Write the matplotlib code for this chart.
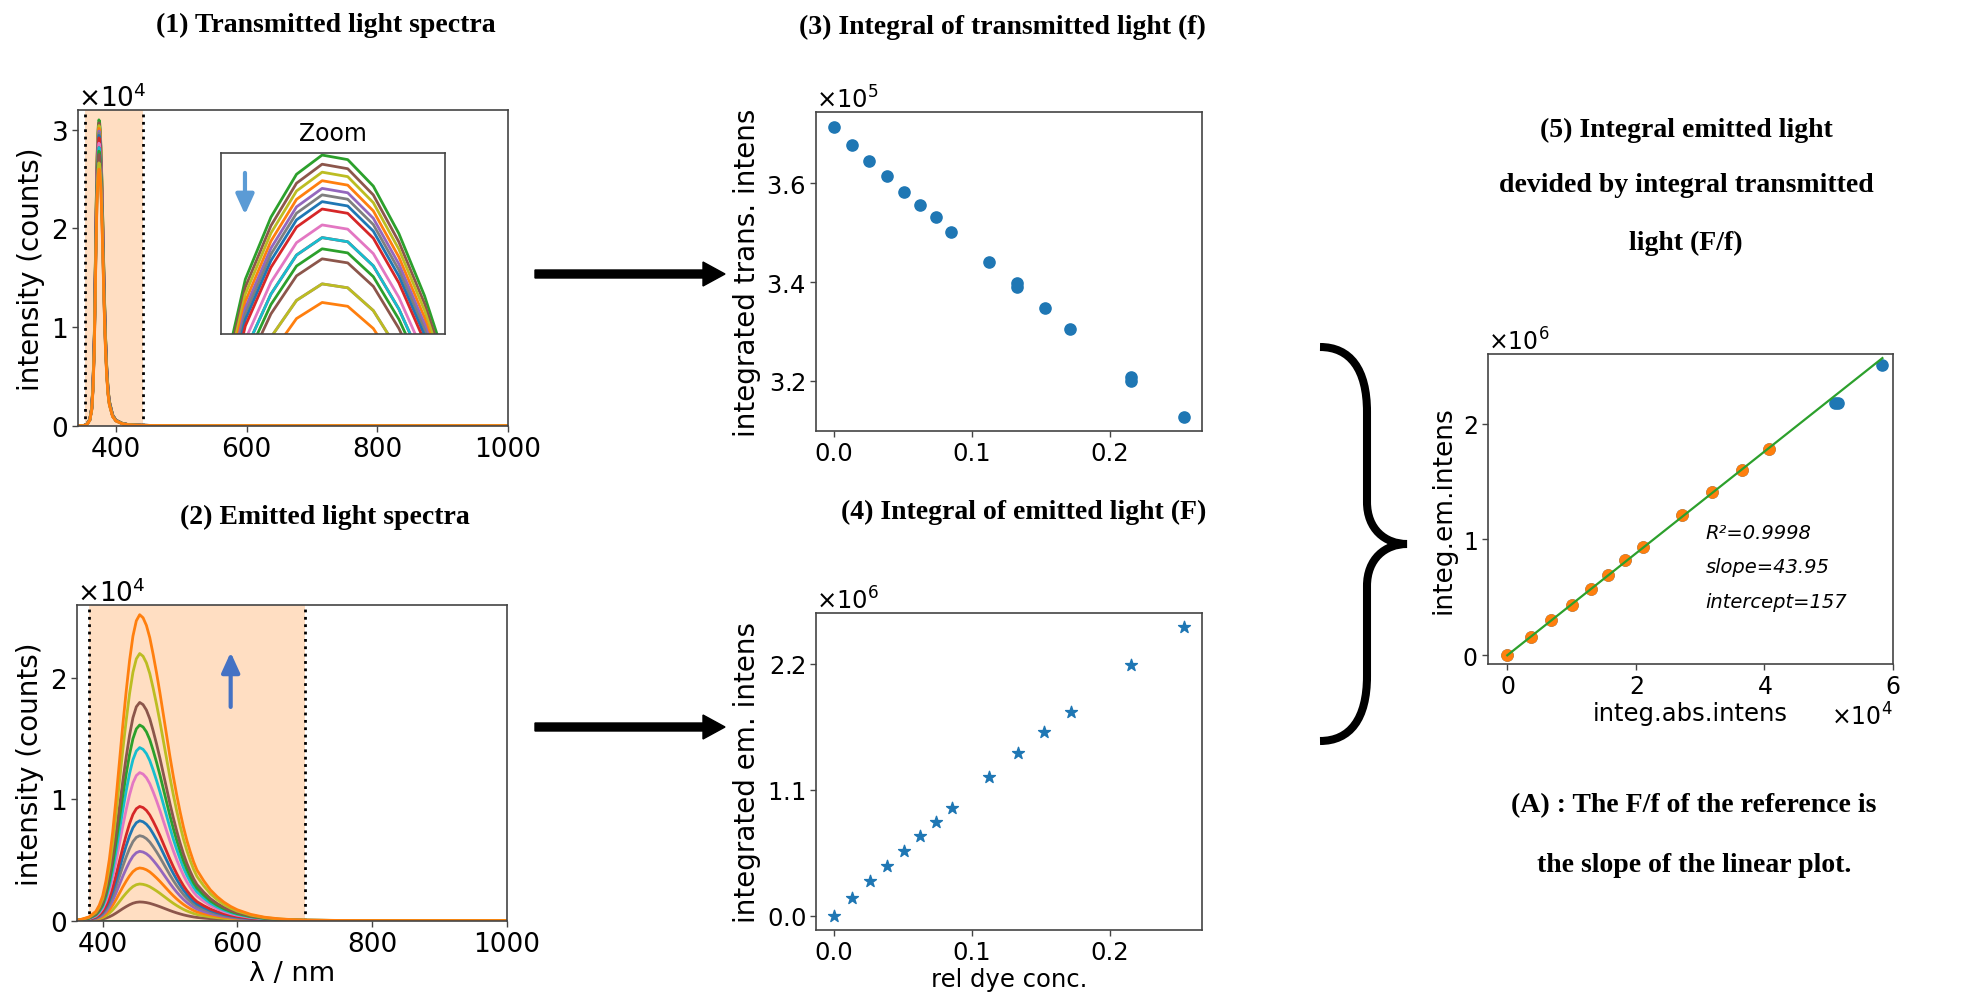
import numpy as np
import matplotlib
matplotlib.use("Agg")
import matplotlib.pyplot as plt
from matplotlib.patches import FancyArrow, PathPatch
from matplotlib.path import Path
from matplotlib.transforms import IdentityTransform

# ---------------- data ----------------
# (1) transmitted light: normalised peak shape + peak height of each spectrum
trans_wl = [340, 350, 355, 360, 363, 365, 367, 368, 369, 370, 371, 372, 373, 374, 375,
            376, 377, 378, 379, 380, 382, 384, 386, 388, 390, 395, 400, 410, 420, 440,
            460, 500, 600, 800, 1000]
trans_shape = [0.0, 0.0, 0.003, 0.02, 0.06, 0.14, 0.30, 0.45, 0.60, 0.74, 0.864, 0.932,
               0.979, 1.0, 0.995, 0.966, 0.914, 0.846, 0.76, 0.66, 0.46, 0.30, 0.19, 0.12,
               0.08, 0.035, 0.018, 0.007, 0.003, 0.001, 0.0005, 0.0, 0.0, 0.0, 0.0]
trans_peaks = [31000, 30690, 30420, 30130, 29870, 29650, 29420, 29170, 28630, 28200,
               28200, 27820, 27480, 26630, 26630, 26000]
trans_colors = ["tab:green", "tab:brown", "tab:olive", "tab:orange", "tab:purple",
                "tab:gray", "tab:blue", "tab:red", "tab:pink", "tab:red", "tab:cyan",
                "tab:green", "tab:brown", "tab:purple", "tab:olive", "tab:orange"]
trans_window = [352, 441]

# (2) emitted light: normalised emission shape + peak height of each spectrum
em_wl = [360, 370, 380, 390, 395, 400, 405, 410, 415, 420, 425, 430, 435, 440, 445, 450,
         455, 460, 465, 470, 475, 480, 485, 490, 495, 500, 505, 510, 515, 520, 525, 530,
         535, 540, 550, 560, 570, 580, 590, 600, 620, 640, 660, 680, 700, 750, 800, 1000]
em_shape = [0.0, 0.005, 0.012, 0.03, 0.05, 0.08, 0.13, 0.20, 0.29, 0.40, 0.52, 0.64, 0.75,
            0.85, 0.93, 0.98, 1.0, 0.99, 0.965, 0.925, 0.87, 0.81, 0.745, 0.675, 0.605,
            0.535, 0.47, 0.41, 0.355, 0.305, 0.262, 0.225, 0.192, 0.165, 0.13, 0.10, 0.078,
            0.06, 0.046, 0.035, 0.02, 0.011, 0.006, 0.003, 0.0015, 0.0003, 0.0, 0.0]
em_peaks = [0, 1530, 3010, 4330, 5700, 6990, 8220, 9400, 12190, 14250, 16110, 17970,
            22000, 25200]
em_colors = ["tab:green", "tab:brown", "tab:olive", "tab:orange", "tab:purple", "tab:gray",
             "tab:blue", "tab:red", "tab:pink", "tab:cyan", "tab:green", "tab:brown",
             "tab:olive", "tab:orange"]
em_window = [380, 700]

# (3) integral of transmitted light
conc_t = [0.0, 0.0133, 0.0258, 0.0386, 0.0507, 0.0625, 0.0744, 0.0853, 0.1126, 0.1331,
          0.1331, 0.1529, 0.1715, 0.2152, 0.2152, 0.2543]
trans_int = [371500, 367800, 364600, 361400, 358300, 355700, 353100, 350200, 344100,
             339900, 339100, 334800, 330500, 320700, 319900, 312800]

# (4) integral of emitted light
conc_e = [0.0, 0.0135, 0.0265, 0.0387, 0.0508, 0.0626, 0.0744, 0.0859, 0.1124, 0.1333,
          0.1526, 0.1716, 0.2152, 0.2539]
em_int = [0, 150000, 301000, 431000, 565000, 695000, 816000, 938000, 1212000, 1416000,
          1604000, 1780000, 2186000, 2516000]

# (5) emitted vs absorbed
abs_int = [0, 3720, 6820, 10030, 13020, 15710, 18290, 21140, 27240, 31890, 36540, 40780,
           50900, 51520, 58350]
em_int5 = [0, 159000, 302000, 435000, 569000, 694000, 819000, 935000, 1211000, 1409000,
           1599000, 1780000, 2177000, 2177000, 2509000]
n_fit = 12
fit_slope = 43.95
fit_intercept = 157
fit_r2 = 0.9998

# ---------------- figure ----------------
W, H = 1975, 1004
fig = plt.figure(figsize=(W / 100, H / 100), dpi=100)


def rect(l, r, t, b):
    return [l / W, 1 - b / H, (r - l) / W, (b - t) / H]


def style(ax, tsize):
    for s in ax.spines.values():
        s.set_color("#444444")
        s.set_linewidth(1.2)
    ax.tick_params(labelsize=tsize, width=1.0, length=4, color="#444444")
    ax.yaxis.get_offset_text().set_fontsize(tsize)
    ax.xaxis.get_offset_text().set_fontsize(tsize)


tw = np.array(trans_wl)
ts = np.array(trans_shape)
ew = np.array(em_wl)
es = np.array(em_shape)

# Panel 1
ax1 = fig.add_axes(rect(78, 508, 111, 427))
ax1.axvspan(trans_window[0], trans_window[1], color="tab:orange", alpha=0.25, lw=0)
for x in trans_window:
    ax1.axvline(x, color="k", ls=":", lw=2)
for pk, c in zip(trans_peaks, trans_colors):
    ax1.plot(tw, ts * pk, color=c, lw=2)
ax1.set_xlim(342, 1000)
ax1.set_ylim(-40, 32000)
ax1.set_xticks([400, 600, 800, 1000])
ax1.set_yticks([0, 10000, 20000, 30000])
ax1.ticklabel_format(axis="y", style="sci", scilimits=(0, 0), useMathText=True)
ax1.set_ylabel("intensity (counts)", fontsize=20)
style(ax1, 19)

# Inset
axi = fig.add_axes(rect(221, 445, 154, 335))
for pk, c in zip(trans_peaks, trans_colors):
    axi.plot(tw, ts * pk, color=c, lw=2)
axi.set_xlim(370.05, 378.8)
axi.set_ylim(24930, 31070)
axi.set_xticks([])
axi.set_yticks([])
for s in axi.spines.values():
    s.set_color("#444444")
    s.set_linewidth(1.2)
axi.set_title("Zoom", fontsize=17, pad=9)
axi.annotate("", xy=(0.107, 0.66), xytext=(0.107, 0.89), xycoords="axes fraction",
             arrowprops=dict(arrowstyle="-|>,head_length=0.55,head_width=0.25",
                             color="#5B9BD5", lw=3, mutation_scale=22,
                             shrinkA=0, shrinkB=0))

# Panel 2
ax2 = fig.add_axes(rect(77, 507, 606, 922))
ax2.axvspan(em_window[0], em_window[1], color="tab:orange", alpha=0.25, lw=0)
for x in em_window:
    ax2.axvline(x, color="k", ls=":", lw=2)
for pk, c in zip(em_peaks, em_colors):
    ax2.plot(ew, es * pk, color=c, lw=2)
ax2.set_xlim(362, 1000)
ax2.set_ylim(-40, 26000)
ax2.set_xticks([400, 600, 800, 1000])
ax2.set_yticks([0, 10000, 20000])
ax2.ticklabel_format(axis="y", style="sci", scilimits=(0, 0), useMathText=True)
ax2.set_ylabel("intensity (counts)", fontsize=20)
ax2.set_xlabel("λ / nm", fontsize=19.5, labelpad=2)
ax2.annotate("", xy=(590, 22100), xytext=(590, 17600),
             arrowprops=dict(arrowstyle="-|>,head_length=0.55,head_width=0.25",
                             color="#4472C4", lw=3, mutation_scale=22,
                             shrinkA=0, shrinkB=0))
style(ax2, 19)

# Panel 3
ax3 = fig.add_axes(rect(816, 1202, 113, 432))
ax3.scatter(conc_t, trans_int, s=65, color="tab:blue")
ax3.set_xticks([0.0, 0.1, 0.2])
ax3.set_yticks([320000, 340000, 360000])
ax3.ticklabel_format(axis="y", style="sci", scilimits=(0, 0), useMathText=True)
ax3.set_ylabel("integrated trans. intens", fontsize=20)
style(ax3, 17.5)

# Panel 4
ax4 = fig.add_axes(rect(816, 1202, 614, 931))
ax4.scatter(conc_e, em_int, s=80, marker="*", color="tab:blue")
ax4.set_xticks([0.0, 0.1, 0.2])
ax4.set_yticks([0, 1100000, 2200000])
ax4.ticklabel_format(axis="y", style="sci", scilimits=(0, 0), useMathText=True)
ax4.set_ylabel("integrated em. intens", fontsize=20)
ax4.set_xlabel("rel dye conc.", fontsize=17.5, labelpad=2)
style(ax4, 17.5)

# Panel 5
ax5 = fig.add_axes(rect(1488, 1893, 355, 665))
ax5.scatter(abs_int, em_int5, s=65, color="tab:blue", zorder=2)
ax5.scatter(abs_int[:n_fit], em_int5[:n_fit], s=65, color="tab:orange", zorder=3)
xl = np.array([0, max(abs_int)])
ax5.plot(xl, fit_slope * xl + fit_intercept, color="tab:green", lw=1.6, zorder=4)
ax5.set_xlim(-3000, 60000)
ax5.set_ylim(-75000, 2600000)
ax5.set_xticks([0, 20000, 40000, 60000])
ax5.set_yticks([0, 1000000, 2000000])
ax5.ticklabel_format(axis="both", style="sci", scilimits=(0, 0), useMathText=True)
ax5.set_ylabel("integ.em.intens", fontsize=19)
ax5.set_xlabel("integ.abs.intens", fontsize=17.5, labelpad=2)
for yv, s in zip([1056000, 763000, 466000],
                 [f"R²={fit_r2}", f"slope={fit_slope}", f"intercept={fit_intercept}"]):
    ax5.text(30850, yv, s, fontsize=14, style="italic", va="center", ha="left")
style(ax5, 17)

# ---------------- titles ----------------
serif = dict(family="Liberation Serif", weight="bold", ha="center", va="center")
fig.text(326 / W, 1 - 25 / H, "(1) Transmitted light spectra", fontsize=20, **serif)
fig.text(325 / W, 1 - 517 / H, "(2) Emitted light spectra", fontsize=20, **serif)
fig.text(1002 / W, 1 - 27 / H, "(3) Integral of transmitted light (f)", fontsize=20, **serif)
fig.text(1024 / W, 1 - 512 / H, "(4) Integral of emitted light (F)", fontsize=20, **serif)
for yy, s in zip([130, 186, 243], ["(5) Integral emitted light",
                                   "devided by integral transmitted",
                                   "light (F/f)"]):
    fig.text(1686 / W, 1 - yy / H, s, fontsize=20, **serif)
fig.text(1694 / W, 1 - 806 / H, "(A) : The F/f of the reference is", fontsize=20, **serif)
fig.text(1694 / W, 1 - 866 / H, "the slope of the linear plot.", fontsize=20, **serif)

# ---------------- arrows & brace (figure pixels) ----------------
for yy in [275, 728]:
    fig.add_artist(FancyArrow(535, H - yy, 190, 0, width=8, head_width=24, head_length=22,
                              length_includes_head=True, color="k",
                              transform=IdentityTransform()))

bp = [(1320, 348), (1350, 348), (1367, 370), (1367, 413),
      (1367, 503),
      (1367, 530), (1385, 545), (1407, 545),
      (1385, 545), (1367, 560), (1367, 587),
      (1367, 677),
      (1367, 720), (1350, 742), (1320, 742)]
codes = [Path.MOVETO, Path.CURVE4, Path.CURVE4, Path.CURVE4, Path.LINETO,
         Path.CURVE4, Path.CURVE4, Path.CURVE4, Path.CURVE4, Path.CURVE4, Path.CURVE4,
         Path.LINETO, Path.CURVE4, Path.CURVE4, Path.CURVE4]
brace = Path([(x, H - y) for x, y in bp], codes)
fig.add_artist(PathPatch(brace, fill=False, lw=5.8, color="k", capstyle="butt",
                         transform=IdentityTransform()))

fig.savefig("out.png", dpi=100)
